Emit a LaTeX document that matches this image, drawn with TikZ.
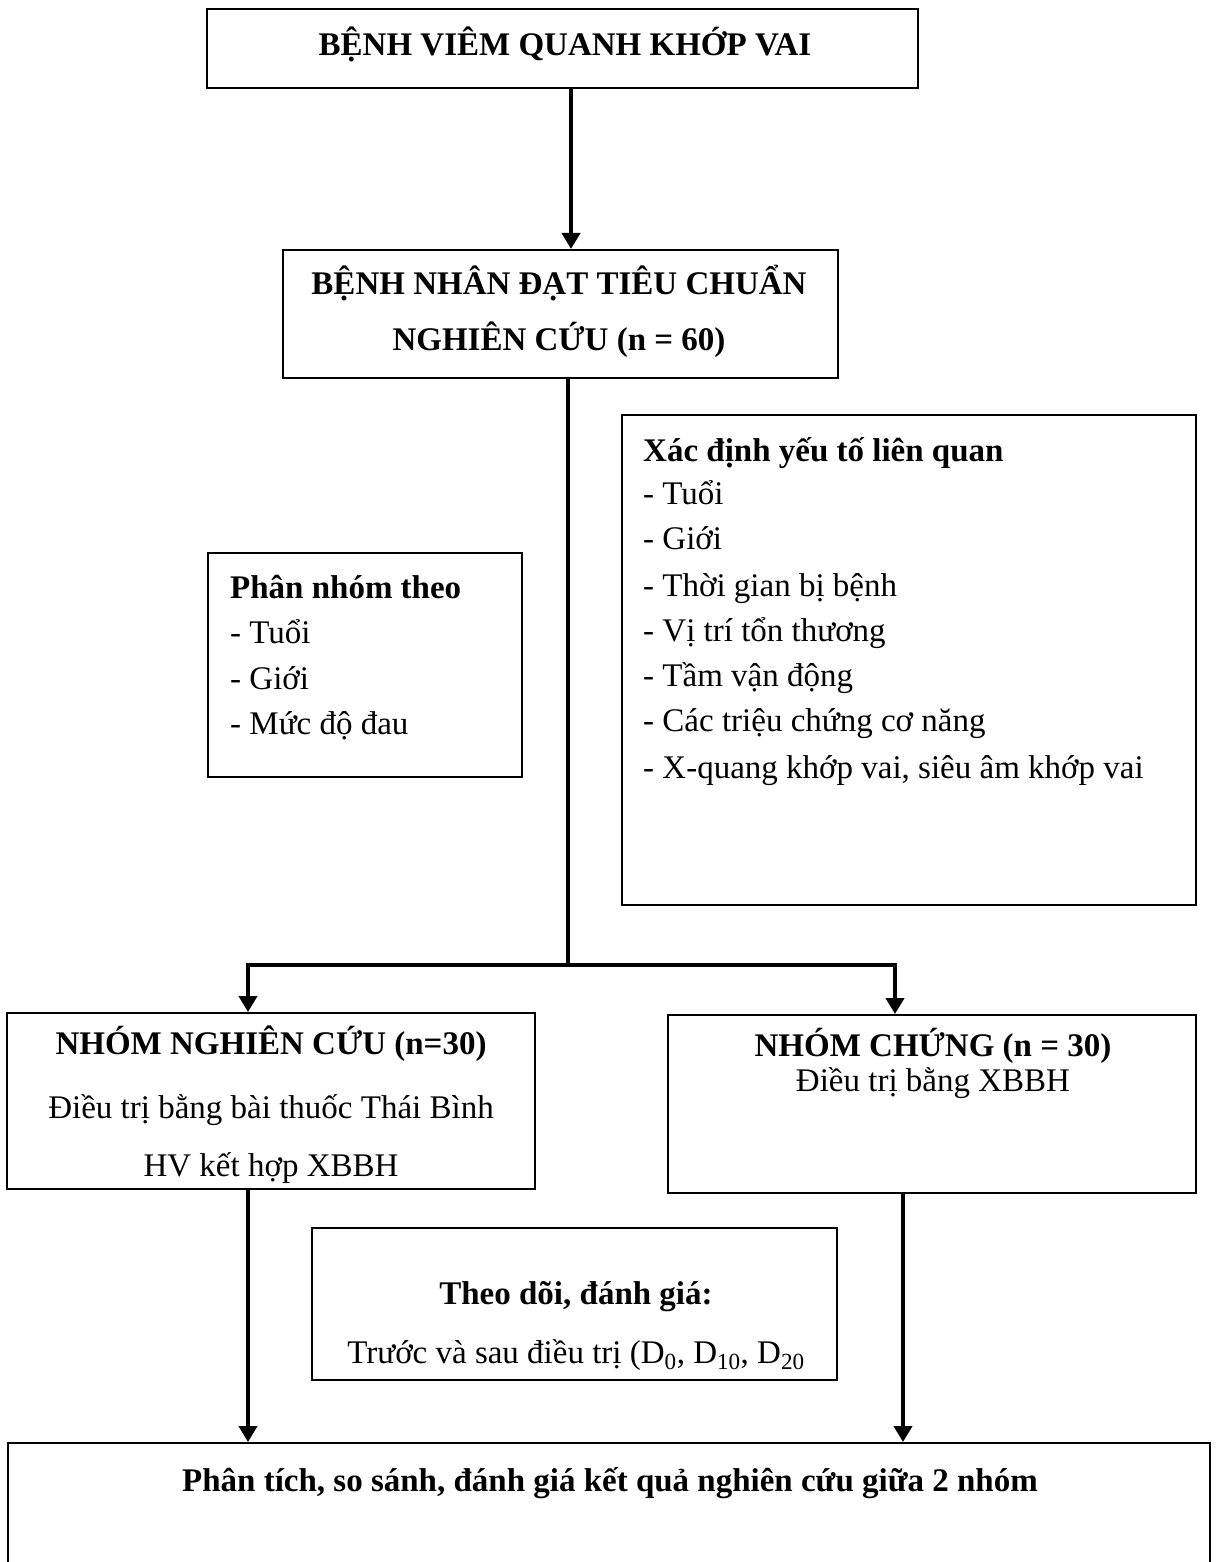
\documentclass[tikz,border=0pt]{standalone}
\usepackage{fontspec}
\setmainfont{Liberation Serif}
\usetikzlibrary{arrows.meta}
\begin{document}
\begin{tikzpicture}[x=1pt,y=-1pt,
  box/.style={draw=black, line width=2pt, inner sep=0pt},
  txt/.style={inner sep=0pt, anchor=base, font=\fontsize{33}{40}\selectfont},
  btxt/.style={inner sep=0pt, anchor=base, font=\fontsize{33}{40}\selectfont\bfseries},
  ltxt/.style={txt, anchor=base west},
  lbtxt/.style={btxt, anchor=base west},
  link/.style={line width=4.5pt},
  arr/.style={link, -{Triangle[width=18pt,length=16pt]}}]
\useasboundingbox (0,0) rectangle (1217,1562);
\clip (0,0) rectangle (1217,1562);
\fill[white] (0,0) rectangle (1217,1562);

% boxes
\node[box, minimum width=711pt, minimum height=79pt] (b1) at (562.5,48.5) {};
\node[box, minimum width=555pt, minimum height=128pt] (b2) at (560.5,314) {};
\node[box, minimum width=314pt, minimum height=224pt] (bpn) at (365,665) {};
\node[box, minimum width=574pt, minimum height=490pt] (bxd) at (909,660) {};
\node[box, minimum width=528pt, minimum height=176pt] (b3) at (271,1101) {};
\node[box, minimum width=528pt, minimum height=178pt] (b4) at (932,1104) {};
\node[box, minimum width=525pt, minimum height=152pt] (btd) at (574.5,1304) {};
\node[box, minimum width=1202pt, minimum height=157pt] (b5) at (609,1521.5) {};

% texts
\node[btxt] (t1) at (565,56) {BỆNH VIÊM QUANH KHỚP VAI};
\node[btxt] (t2a) at (559,294) {BỆNH NHÂN ĐẠT TIÊU CHUẨN};
\node[btxt] (t2b) at (559,350) {NGHIÊN CỨU (n = 60)};

\node[lbtxt] (pn0) at (230,598) {Phân nhóm theo};
\node[ltxt] (pn1) at (230,643) {- Tuổi};
\node[ltxt] (pn2) at (230,689) {- Giới};
\node[ltxt] (pn3) at (230,734) {- Mức độ đau};

\node[lbtxt] (xd0) at (643,461) {Xác định yếu tố liên quan};
\node[ltxt] (xd1) at (643,504) {- Tuổi};
\node[ltxt] (xd2) at (643,549) {- Giới};
\node[ltxt] (xd3) at (643,596) {- Thời gian bị bệnh};
\node[ltxt] (xd4) at (643,641) {- Vị trí tổn thương};
\node[ltxt] (xd5) at (643,686) {- Tầm vận động};
\node[ltxt] (xd6) at (643,731) {- Các triệu chứng cơ năng};
\node[ltxt] (xd7) at (643,778) {- X-quang khớp vai, siêu âm khớp vai};

\node[btxt] (t3a) at (271,1054) {NHÓM NGHIÊN CỨU (n=30)};
\node[txt] (t3b) at (271,1118) {Điều trị bằng bài thuốc Thái Bình};
\node[txt] (t3c) at (271,1176) {HV kết hợp XBBH};

\node[btxt] (t4a) at (933,1056) {NHÓM CHỨNG (n = 30)};
\node[txt] (t4b) at (933,1091) {Điều trị bằng XBBH};

\node[btxt] (tda) at (576,1304) {Theo dõi, đánh giá:};
\node[txt] (tdb) at (576,1363) {Trước và sau điều trị (D\textsubscript{0}, D\textsubscript{10}, D\textsubscript{20}};

\node[btxt] (t5) at (610,1491) {Phân tích, so sánh, đánh giá kết quả nghiên cứu giữa 2 nhóm};

% connectors
\coordinate (a1) at (571,0);
\coordinate (jM) at (568,965);
\coordinate (jL) at (248,965);
\coordinate (jR) at (895,965);
\coordinate (dL) at (248,0);
\coordinate (dR) at (903,0);

\draw[arr] (b1.south -| a1) -- (b2.north -| a1);
\draw[link] (b2.south -| jM) -- (jM);
\draw[arr] (jM) -- (jL) -- (b3.north -| jL);
\draw[arr] (jM) -- (jR) -- (b4.north -| jR);
\draw[arr] (b3.south -| dL) -- (b5.north -| dL);
\draw[arr] (b4.south -| dR) -- (b5.north -| dR);
\end{tikzpicture}
\end{document}
